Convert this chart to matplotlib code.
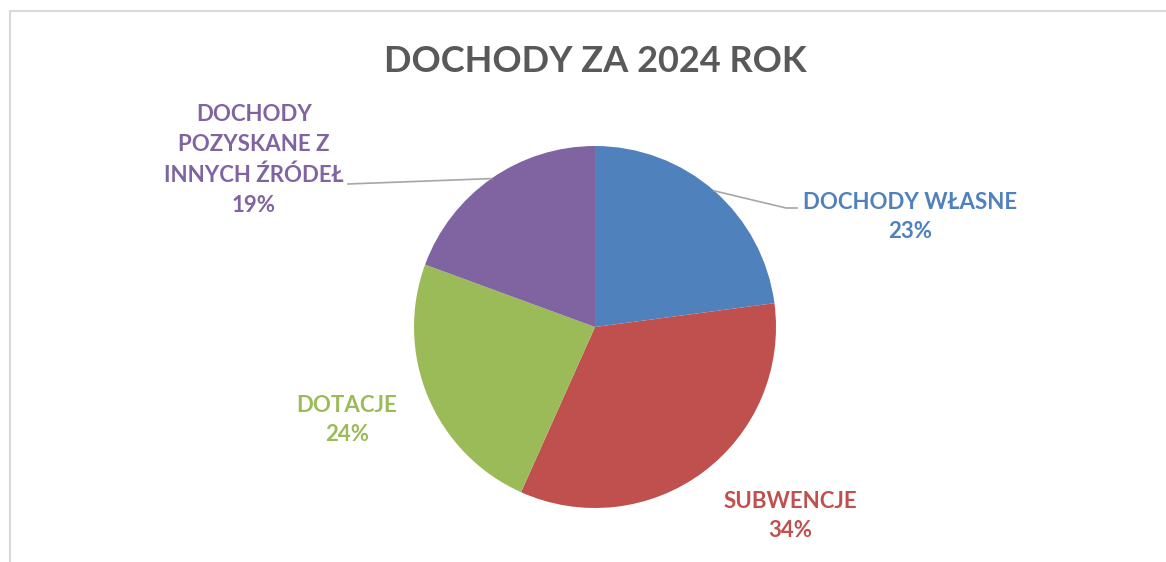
import numpy as np
import matplotlib.pyplot as plt

plt.rcParams['font.family'] = ['Lato', 'DejaVu Sans']

# data (shares in %)
labels = ["DOCHODY WŁASNE", "SUBWENCJE", "DOTACJE",
          "DOCHODY\nPOZYSKANE Z\nINNYCH ŹRÓDEŁ"]
values = [22.9, 33.8, 23.9, 19.4]
colors = ["#4F81BD", "#C0504D", "#9BBB59", "#8064A2"]
title = "DOCHODY ZA 2024 ROK"

W, H = 1166, 562
fig = plt.figure(figsize=(W / 100, H / 100), dpi=100)
ax = fig.add_axes([0, 0, 1, 1])

# frame (cut on right / bottom like the source)
ax.plot([10, 10, W + 5], [-5, H - 11, H - 11], color="#D9D9D9", lw=1.5,
        solid_capstyle="butt")

cx, cy, r = 595, H - 327, 181
wedges, _ = ax.pie(values, colors=colors, startangle=90, counterclock=False,
                   center=(cx, cy), radius=r, frame=True,
                   wedgeprops=dict(linewidth=0))
ax.set_xlim(0, W)
ax.set_ylim(0, H)
ax.set_aspect("equal")
ax.axis("off")

ax.text(595, H - 61, title, ha="center", va="center", fontsize=26,
        fontweight="bold", color="#595959")

# label anchors (text centre, pixels from top)
lab_pos = [(910, 217), (790, 516), (347, 420), (254, 160)]
total = sum(values)
for w, lab, v, c, (lx, ly) in zip(wedges, labels, values, colors, lab_pos):
    ax.text(lx, H - ly, f"{lab}\n{round(100 * v / total)}%", ha="center",
            va="center", fontsize=16, fontweight="bold", color=c,
            linespacing=1.52)

# leader lines
th = np.deg2rad((wedges[0].theta1 + wedges[0].theta2) / 2)
x0, y0 = cx + r * np.cos(th), cy + r * np.sin(th)
ax.plot([x0, 786, 797], [y0, H - 208, H - 208], color="#A6A6A6", lw=1.2)
th = np.deg2rad((wedges[3].theta1 + wedges[3].theta2) / 2)
x0, y0 = cx + r * np.cos(th), cy + r * np.sin(th)
ax.plot([x0, 348], [y0, H - 184], color="#A6A6A6", lw=1.2)

fig.savefig("out.png", dpi=100)
